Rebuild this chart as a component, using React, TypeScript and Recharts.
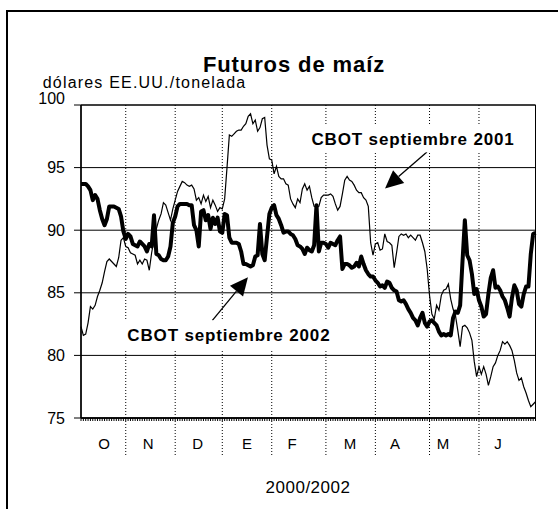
import React from 'react';
import {
  LineChart,
  Line,
  XAxis,
  YAxis,
  CartesianGrid,
  ReferenceArea,
  ReferenceDot,
  ReferenceLine,
} from 'recharts';

// Trading-day index (x position) for each observation
const dayIndex: number[] = Array.from({ length: 194 }, (_, k) => k);

// CBOT septiembre 2001 (thin line)
const sept2001: number[] = [
  82.3, 81.6, 81.7, 82.6, 83.9, 83.7, 84.0, 84.7, 85.2, 85.8,
  86.7, 87.5, 87.7, 87.5, 87.3, 87.1, 87.8, 89.2, 89.4, 88.7,
  88.6, 88.2, 88.1, 88.0, 87.3, 87.6, 87.3, 87.7, 87.6, 86.8,
  88.2, 89.2, 90.1, 90.8, 91.3, 92.2, 92.0, 91.4, 90.8, 91.7,
  92.4, 93.1, 93.5, 93.9, 93.8, 93.6, 93.5, 93.6, 93.3, 92.4,
  92.6, 92.1, 92.8, 92.3, 92.7, 91.8, 92.4, 92.0, 91.5, 91.8,
  91.7, 92.5, 95.0, 97.6, 97.5, 97.7, 97.9, 98.0, 98.0, 98.3,
  98.5, 99.1, 99.3, 98.5, 98.8, 97.9, 98.2, 98.9, 99.0, 96.8,
  95.7, 95.6, 94.5, 95.1, 94.3, 94.1, 94.1, 93.7, 93.6, 92.5,
  92.1, 91.8, 92.5, 92.2, 93.3, 93.7, 93.2, 93.5, 92.6, 91.9,
  91.8, 91.9, 92.6, 92.8, 92.8, 92.8, 92.9, 92.7, 92.1, 91.6,
  91.9, 92.9, 94.0, 94.3, 94.0, 93.9, 93.6, 93.2, 93.0, 93.0,
  92.6, 92.4, 91.9, 89.0, 88.0, 88.9, 89.0, 88.4, 88.5, 89.7,
  89.1, 89.0, 88.8, 87.0, 88.2, 89.5, 89.7, 89.6, 89.7, 89.4,
  89.6, 89.4, 89.2, 89.6, 89.6, 89.0, 88.3, 86.9, 84.8, 83.3,
  82.9, 84.0, 83.6, 84.8, 85.2, 85.3, 85.7, 84.5, 83.7, 83.2,
  82.0, 80.7, 82.3, 82.4, 82.2, 81.8, 81.2, 79.5, 78.3, 79.1,
  78.5, 79.1, 78.5, 77.6, 78.3, 79.1, 79.4, 80.0, 80.4, 81.1,
  80.9, 81.1, 80.8, 80.4, 79.6, 78.6, 78.0, 78.2, 77.5, 77.0,
  76.4, 75.9, 76.1, 76.3,
];

// CBOT septiembre 2002 (thick line)
const sept2002: number[] = [
  93.7, 93.7, 93.7, 93.5, 93.2, 92.4, 92.8, 92.5, 91.6, 90.9,
  90.4, 90.9, 91.9, 91.9, 91.9, 91.8, 91.7, 91.1, 89.9, 89.3,
  89.7, 89.5, 88.9, 88.8, 88.7, 89.1, 88.9, 88.7, 88.3, 88.9,
  88.7, 91.2, 88.1, 88.0, 87.7, 87.6, 87.6, 87.9, 88.7, 90.6,
  91.1, 91.9, 92.1, 92.1, 92.1, 92.1, 92.0, 92.0, 90.4, 90.0,
  88.7, 91.5, 91.6, 90.8, 91.2, 90.1, 91.0, 90.5, 91.0, 89.9,
  89.8, 91.3, 91.2, 89.4, 89.0, 89.0, 89.0, 88.9, 88.3, 87.3,
  87.3, 87.2, 87.1, 87.2, 87.9, 88.0, 90.5, 88.1, 87.6, 89.5,
  91.3, 91.8, 92.0, 91.2, 90.9, 90.4, 89.8, 89.9, 89.9, 89.7,
  89.6, 89.3, 88.8, 88.7, 88.5, 88.1, 88.6, 88.4, 88.3, 88.8,
  92.0, 88.3, 89.0, 89.0, 88.9, 88.6, 89.0, 88.9, 88.8, 89.2,
  89.5, 86.9, 87.3, 87.3, 87.2, 87.0, 87.1, 87.4, 87.1, 87.9,
  87.3, 86.8, 86.5, 86.3, 86.3, 86.0, 85.8, 85.5, 85.6, 85.4,
  85.9, 85.8, 85.4, 85.2, 85.1, 84.4, 84.3, 84.4, 84.1, 83.7,
  83.4, 83.0, 82.8, 82.4, 83.0, 83.4, 82.6, 82.3, 82.7, 82.8,
  82.6, 82.4, 81.9, 81.6, 81.7, 81.6, 81.7, 81.6, 83.0, 83.5,
  83.4, 84.0, 87.5, 90.8, 88.0, 87.6, 86.5, 84.9, 85.3, 84.4,
  83.9, 83.1, 83.3, 84.9, 86.2, 86.8, 85.4, 85.5, 85.2, 84.7,
  84.4, 83.8, 83.1, 84.6, 85.6, 85.2, 84.1, 83.9, 84.9, 85.5,
  85.5, 88.1, 89.7, 89.8,
];

// Month separators (first trading day index of each month) and month labels
const monthStarts: number[] = [19, 40, 60, 81, 104, 125, 148, 169];
const monthLabels: string[] = ['O', 'N', 'D', 'E', 'F', 'M', 'A', 'M', 'J'];
const monthLabelPos: number[] = [9.8, 28.5, 49.5, 70.5, 89.6, 114.2, 133.3, 153.7, 177.1];

const yTicks: number[] = [75, 80, 85, 90, 95, 100];

const table = dayIndex.map((d, k) => ({ day: d, s2001: sept2001[k], s2002: sept2002[k] }));
const bottomTicks: number[] = [...dayIndex, ...monthLabelPos].sort((a, b) => a - b);

const FONT = '"Liberation Sans", Arial, Helvetica, sans-serif';

const YTick = (props: any) => {
  const { x, y, payload } = props;
  const lift = payload.value === 100 ? -7 : 0;
  return (
    <text x={x} y={y + lift + 5.5} textAnchor="end" fontFamily={FONT} fontSize={16} fill="#000">
      {payload.value}
    </text>
  );
};

// Bottom axis: daily tick marks, dotted month separators, month letters
const BottomTick = (props: any) => {
  const { x, y, payload } = props;
  const v = payload.value;
  const k = monthLabelPos.indexOf(v);
  if (k >= 0) {
    return (
      <text x={x} y={y + 31} textAnchor="middle" fontFamily={FONT} fontSize={15} fill="#000">
        {monthLabels[k]}
      </text>
    );
  }
  const isBound = monthStarts.indexOf(v) >= 0;
  return (
    <g>
      <line x1={x} x2={x} y1={y} y2={y + 3} stroke="#000" strokeWidth={1} />
      {isBound && (
        <line x1={x} x2={x} y1={y} y2={y + 39} stroke="#000" strokeWidth={1} strokeDasharray="1 2" />
      )}
    </g>
  );
};

const Arrow = (props: any) => {
  const { x1, y1, x2, y2 } = props;
  const dx = x2 - x1;
  const dy = y2 - y1;
  const len = Math.sqrt(dx * dx + dy * dy) || 1;
  const ux = dx / len;
  const uy = dy / len;
  const headLen = 18;
  const halfW = 8.5;
  const bx = x2 - ux * headLen;
  const by = y2 - uy * headLen;
  const px = -uy;
  const py = ux;
  return (
    <g>
      <line x1={x1} y1={y1} x2={bx} y2={by} stroke="#000" strokeWidth={1.3} />
      <polygon
        points={`${x2},${y2} ${bx + px * halfW},${by + py * halfW} ${bx - px * halfW},${by - py * halfW}`}
        fill="#000"
      />
    </g>
  );
};

const makeLabel = (text: string, boxW: number, boxH: number) => (props: any) => {
  const { cx, cy } = props;
  return (
    <g>
      <rect x={cx - boxW / 2} y={cy - boxH / 2} width={boxW} height={boxH} fill="#fff" />
      <text
        x={cx}
        y={cy + 6}
        textAnchor="middle"
        fontFamily={FONT}
        fontWeight="bold"
        fontSize={17}
        letterSpacing={0.85}
        fill="#000"
      >
        {text}
      </text>
    </g>
  );
};

const Label2001 = makeLabel('CBOT septiembre 2001', 214, 27);
const Label2002 = makeLabel('CBOT septiembre 2002', 214, 30);

export default function App() {
  return (
    <div
      style={{
        position: 'absolute',
        left: 0,
        top: 0,
        width: 558,
        height: 509,
        overflow: 'hidden',
        background: '#fff',
      }}
    >
      <div
        style={{
          position: 'absolute',
          left: 5.5,
          top: 10,
          width: 620,
          height: 620,
          border: '2px solid #000',
          boxSizing: 'border-box',
        }}
      />
      <div style={{ position: 'absolute', left: 0, top: 0 }}>
        <LineChart
          width={558}
          height={509}
          data={table}
          margin={{ top: 105, right: 22.5, bottom: 0, left: 0 }}
        >
          <CartesianGrid
            xAxisId="days"
            yAxisId="val"
            horizontal
            vertical={false}
            stroke="#000"
            strokeWidth={1}
          />
          <XAxis
            xAxisId="days"
            type="number"
            dataKey="day"
            domain={[0, 193]}
            ticks={bottomTicks}
            interval={0}
            tick={<BottomTick />}
            tickLine={false}
            tickSize={0}
            tickMargin={0}
            axisLine={{ stroke: '#000', strokeWidth: 1.5 }}
            height={91}
          />
          <YAxis
            yAxisId="val"
            type="number"
            domain={[75, 100]}
            ticks={yTicks}
            interval={0}
            width={81}
            tickSize={7}
            tickMargin={9}
            tick={<YTick />}
            tickLine={{ stroke: '#000', strokeWidth: 1 }}
            axisLine={{ stroke: '#000', strokeWidth: 1.5 }}
          />
          <ReferenceArea
            xAxisId="days"
            yAxisId="val"
            x1={0}
            x2={193}
            y1={75}
            y2={100}
            fill="none"
            fillOpacity={0}
            stroke="#000"
            strokeWidth={1}
          />
          {monthStarts.map((b) => (
            <ReferenceLine
              key={`mb-${b}`}
              xAxisId="days"
              yAxisId="val"
              x={b}
              stroke="#000"
              strokeWidth={1}
              strokeDasharray="1 2"
            />
          ))}
          <Line
            xAxisId="days"
            yAxisId="val"
            type="linear"
            dataKey="s2001"
            stroke="#000"
            strokeWidth={1.2}
            dot={false}
            isAnimationActive={false}
          />
          <Line
            xAxisId="days"
            yAxisId="val"
            type="linear"
            dataKey="s2002"
            stroke="#000"
            strokeWidth={4}
            strokeLinejoin="round"
            dot={false}
            isAnimationActive={false}
          />
          <ReferenceDot xAxisId="days" yAxisId="val" x={141} y={97.3} shape={Label2001} />
          <ReferenceDot xAxisId="days" yAxisId="val" x={62.8} y={81.6} shape={Label2002} />
          <ReferenceLine
            xAxisId="days"
            yAxisId="val"
            segment={[{ x: 146.9, y: 96.24 }, { x: 129.1, y: 93.34 }]}
            shape={Arrow}
          />
          <ReferenceLine
            xAxisId="days"
            yAxisId="val"
            segment={[{ x: 55.8, y: 82.8 }, { x: 70.9, y: 86.24 }]}
            shape={Arrow}
          />
        </LineChart>
      </div>
      <svg
        width={558}
        height={509}
        style={{ position: 'absolute', left: 0, top: 0, pointerEvents: 'none' }}
      >
        <text x={294} y={72} textAnchor="middle" fontFamily={FONT} fontWeight="bold" fontSize={22} letterSpacing={0.9} fill="#000">
          Futuros de maíz
        </text>
        <text x={42.7} y={88} fontFamily={FONT} fontSize={16} letterSpacing={1.2} fill="#000">
          dólares EE.UU./tonelada
        </text>
        <text x={308} y={493} textAnchor="middle" fontFamily={FONT} fontSize={17} letterSpacing={0.5} fill="#000">
          2000/2002
        </text>
      </svg>
    </div>
  );
}
